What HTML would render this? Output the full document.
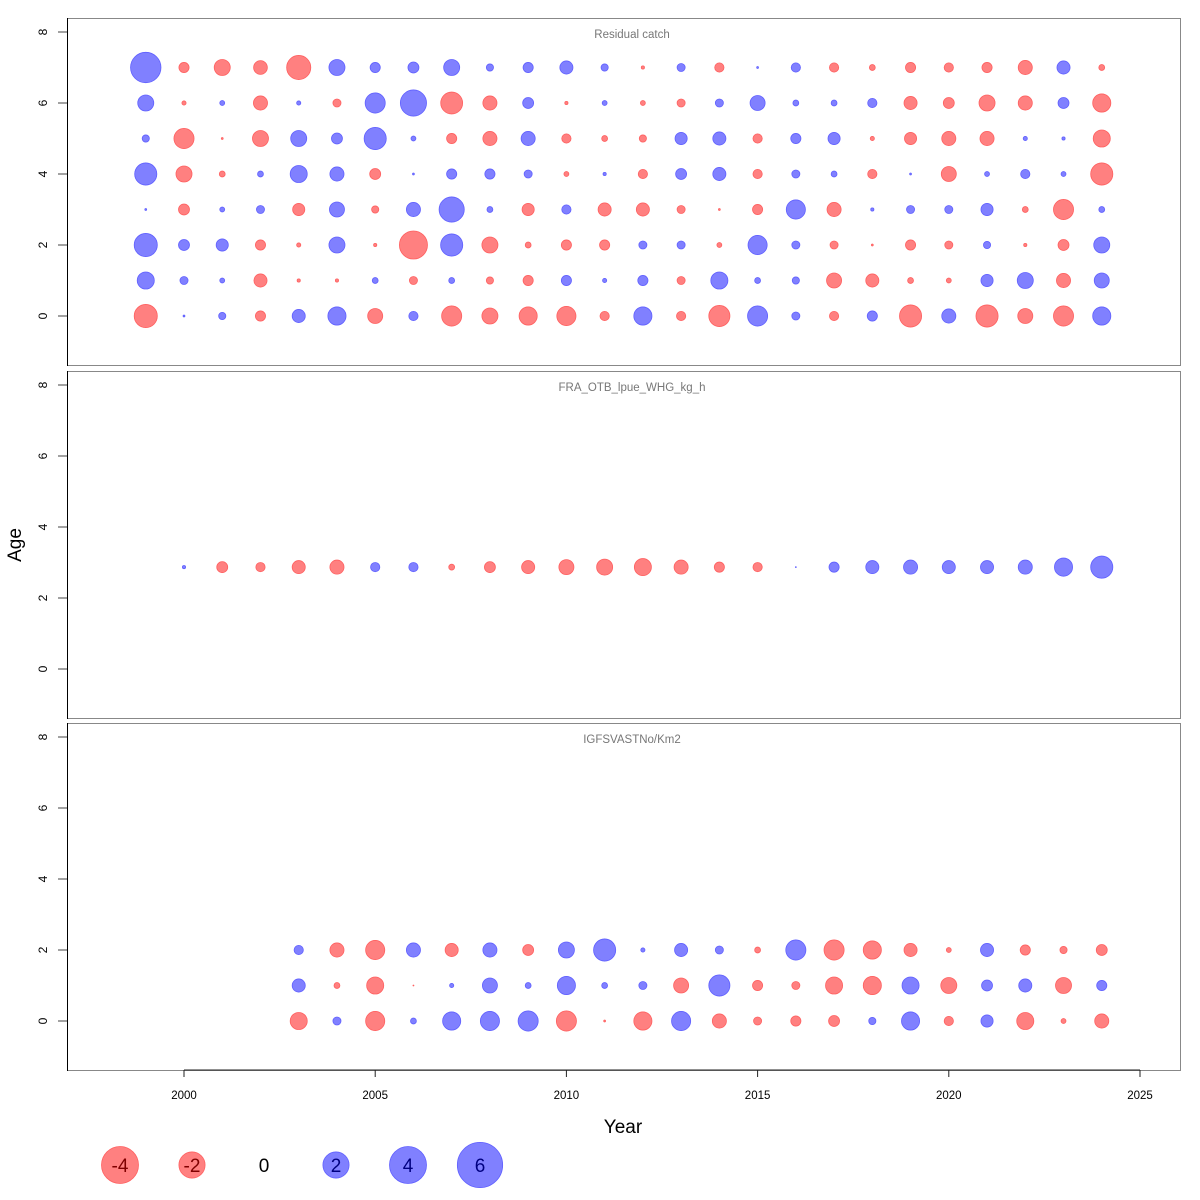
<!DOCTYPE html>
<html><head><meta charset="utf-8"><style>
body{margin:0;background:#fff}
svg{display:block;font-family:"Liberation Sans",sans-serif}
</style></head><body>
<svg id="chart" width="1200" height="1200" viewBox="0 0 1200 1200"></svg>
<script>
const years = [1999,2000,2001,2002,2003,2004,2005,2006,2007,2008,2009,2010,2011,2012,2013,2014,2015,2016,2017,2018,2019,2020,2021,2022,2023,2024];
const catchAge0 = [-1.56,0.01,0.15,-0.3,0.5,0.96,-0.66,0.25,-1.18,-0.75,-0.96,-1.07,-0.25,0.96,-0.25,-1.3,1.18,0.19,-0.25,0.3,-1.43,0.58,-1.43,-0.66,-1.18,0.96];
const catchAge1 = [0.85,0.19,0.07,-0.5,-0.03,-0.03,0.1,-0.19,0.1,-0.15,-0.3,0.3,0.05,0.3,-0.19,0.85,0.1,0.15,-0.66,-0.5,-0.1,-0.07,0.43,0.75,-0.58,0.66];
const catchAge2 = [1.56,0.35,0.43,-0.3,-0.05,0.75,-0.03,-2.3,1.43,-0.75,-0.1,-0.3,-0.3,0.19,0.19,-0.07,1.07,0.19,-0.19,-0.01,-0.3,-0.19,0.15,-0.03,-0.35,0.75];
const catchAge3 = [0.01,-0.35,0.07,0.19,-0.43,0.66,-0.15,0.58,1.85,0.1,-0.43,0.25,-0.5,-0.5,-0.19,-0.01,-0.3,1.07,-0.58,0.03,0.19,0.19,0.43,-0.1,-1.18,0.1];
const catchAge4 = [1.43,-0.75,-0.1,0.1,0.85,0.58,-0.35,0.01,0.3,0.3,0.19,-0.07,0.03,-0.25,0.35,0.5,-0.25,0.19,0.1,-0.25,0.01,-0.66,0.07,0.25,0.07,-1.43];
const catchAge5 = [0.15,-1.18,-0.01,-0.75,0.75,0.35,1.43,0.07,-0.3,-0.58,0.58,-0.25,-0.1,-0.15,0.43,0.5,-0.25,0.3,0.43,-0.05,-0.43,-0.58,-0.58,0.05,0.03,-0.85];
const catchAge6 = [0.75,-0.05,0.07,-0.58,0.05,-0.19,1.18,2.0,-1.4,-0.58,0.35,-0.03,0.07,-0.07,-0.19,0.19,0.66,0.1,0.1,0.25,-0.5,-0.35,-0.75,-0.58,0.35,-0.96];
const catchAge7 = [2.7,-0.3,-0.75,-0.55,-1.7,0.75,0.3,0.35,0.75,0.15,0.3,0.5,0.15,-0.03,0.19,-0.25,0.01,0.25,-0.25,-0.1,-0.3,-0.25,-0.3,-0.58,0.5,-0.1];
const lpueAge = 2.87;
const lpueVals = [null,0.03,-0.35,-0.25,-0.5,-0.58,0.25,0.25,-0.1,-0.35,-0.5,-0.66,-0.75,-0.85,-0.58,-0.3,-0.25,0.003,0.3,0.5,0.58,0.5,0.5,0.58,0.96,1.43];
const surveyYears = [2003,2004,2005,2006,2007,2008,2009,2010,2011,2012,2013,2014,2015,2016,2017,2018,2019,2020,2021,2022,2023,2024];
const surveyAge0 = [-0.85,0.19,-1.07,0.1,0.96,1.07,1.18,-1.18,-0.01,-0.96,1.07,-0.58,-0.19,-0.3,-0.35,0.15,0.96,-0.25,0.43,-0.85,-0.07,-0.58];
const surveyAge1 = [0.5,-0.1,-0.85,-0.003,0.05,0.66,0.1,0.96,0.1,0.19,-0.66,1.3,-0.3,-0.19,-0.85,-0.96,0.85,-0.75,0.35,0.5,-0.75,0.3];
const surveyAge2 = [0.25,-0.58,-1.07,0.58,-0.5,0.58,-0.35,0.75,1.43,0.05,0.5,0.19,-0.1,1.18,-1.18,-0.96,-0.5,-0.07,0.5,-0.3,-0.15,-0.35];
const legendVals = [-4,-2,0,2,4,6];
const yTicks = [0,2,4,6,8];
const xTicks = [2000,2005,2010,2015,2020,2025];

const NS = "http://www.w3.org/2000/svg";
const svg = document.getElementById('chart');
function mk(tag, attrs, parent){const e=document.createElementNS(NS,tag);for(const k in attrs)e.setAttribute(k,attrs[k]);(parent||svg).appendChild(e);return e;}
const xs = y => 184 + (y-2000)*38.24;
const K = 9.25;
const rad = v => K*Math.sqrt(Math.abs(v));
const BLUE_F="#8080ff", BLUE_S="#6060ff", RED_F="#ff8080", RED_S="#ff6060";

const panels = [
  {top:18, title:"Residual catch", name:"residual-catch-panel"},
  {top:371, title:"FRA_OTB_lpue_WHG_kg_h", name:"lpue-panel"},
  {top:723, title:"IGFSVASTNo/Km2", name:"survey-panel"}
];
const panelH = 347;
panels.forEach((p,i)=>{
  const g = mk('g',{});
  
  
  const box = mk('rect',{x:67.5,y:p.top+0.5,width:1113,height:panelH,fill:'none',stroke:'#888','stroke-width':1},g);
  
  
  mk('line',{x1:67.5,y1:p.top,x2:67.5,y2:p.top+panelH+1,stroke:'#000','stroke-width':1},g);
  const y0 = p.top + 298;
  p.ys = a => y0 - a*35.5;
  yTicks.forEach(t=>{
    const yy=p.ys(t);
    mk('line',{x1:58,y1:yy,x2:67,y2:yy,stroke:'#444','stroke-width':1},g);
    const tx = mk('text',{x:47,y:yy,'font-size':12,'text-anchor':'middle',transform:`rotate(-90 47 ${yy})`,fill:'#000'},g);
    tx.textContent=t;
    
    
  });
  const tt = mk('text',{x:632,y:p.top+20,'font-size':11.5,'text-anchor':'middle',fill:'#777'},g);
  tt.textContent=p.title;
  
  
  p.g=g;
});

function bubble(g,x,y,v){
  if(v===null||v===undefined)return;
  const c = mk('circle',{cx:x,cy:y,r:Math.max(rad(v),0.4),fill:v>=0?BLUE_F:RED_F,stroke:v>=0?BLUE_S:RED_S,'stroke-width':0.8},g);
  
  
}
const catchRows=[catchAge0,catchAge1,catchAge2,catchAge3,catchAge4,catchAge5,catchAge6,catchAge7];
catchRows.forEach((row,a)=>row.forEach((v,j)=>bubble(panels[0].g,xs(years[j]),panels[0].ys(a),v)));
lpueVals.forEach((v,j)=>bubble(panels[1].g,xs(years[j]),panels[1].ys(lpueAge),v));
[surveyAge0,surveyAge1,surveyAge2].forEach((row,a)=>row.forEach((v,j)=>bubble(panels[2].g,xs(surveyYears[j]),panels[2].ys(a),v)));

const ax = mk('g',{});


mk('line',{x1:xs(2000),y1:1070,x2:xs(2025),y2:1070,stroke:'#222','stroke-width':1},ax);
xTicks.forEach(t=>{
  mk('line',{x1:xs(t),y1:1070,x2:xs(t),y2:1077,stroke:'#222','stroke-width':1},ax);
  const tx=mk('text',{x:xs(t),y:1099,'font-size':11.5,'text-anchor':'middle',fill:'#000'},ax);
  tx.textContent=t;
  
  
});
const xl=mk('text',{x:623,y:1133,'font-size':19,'text-anchor':'middle',fill:'#000'});
xl.textContent='Year';


const yl=mk('text',{x:21,y:545,'font-size':19,'text-anchor':'middle',fill:'#000',transform:'rotate(-90 21 545)'});
yl.textContent='Age';



const lg = mk('g',{});


legendVals.forEach((v,i)=>{
  const cx = 120 + i*72, cy = 1165;
  if(v!==0){
    const c=mk('circle',{cx:cx,cy:cy,r:rad(v),fill:v>0?BLUE_F:RED_F,stroke:v>0?BLUE_S:RED_S,'stroke-width':0.8},lg);
    
    
  }
  const t=mk('text',{x:cx,y:cy+7,'font-size':19,'text-anchor':'middle',fill:v>0?'#000080':(v<0?'#800000':'#000')},lg);
  t.textContent=v;
  
  
});
</script>
</body></html>
